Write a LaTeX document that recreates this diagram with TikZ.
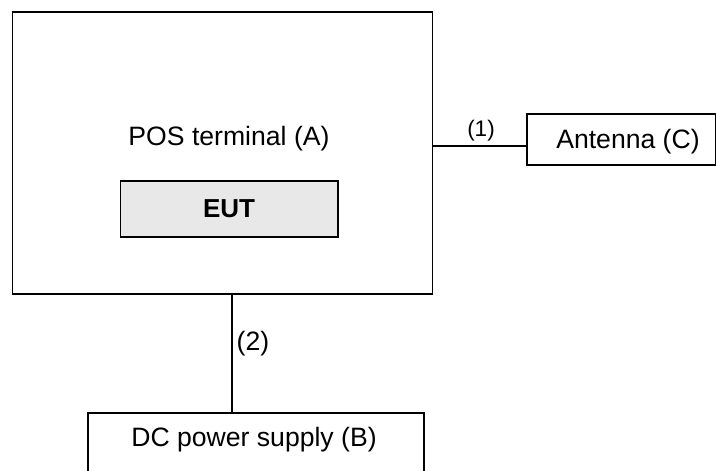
\documentclass[tikz,border=0pt]{standalone}
\usepackage{fontspec}
\setmainfont{Liberation Sans}
\begin{document}
\begin{tikzpicture}[x=1pt,y=-1pt,
  box/.style={draw=black, line width=1.8pt, rectangle, inner sep=0pt, anchor=north west},
  lbl/.style={inner sep=0pt, anchor=base, font=\fontsize{26.6}{30}\selectfont},
  small/.style={inner sep=0pt, anchor=base, font=\fontsize{22.5}{26}\selectfont},
  wire/.style={draw=black, line width=1.8pt}]
\useasboundingbox (0,0) rectangle (716,471);
\clip (0,0) rectangle (716,471);
% boxes
\node[box, minimum width=420pt, minimum height=282pt] (pos) at (11.5,11) {};
\node[box, fill={rgb,255:red,232;green,232;blue,232}, minimum width=217.5pt, minimum height=56pt] (eut) at (119.5,180) {};
\node[box, minimum width=189.5pt, minimum height=51.5pt] (ant) at (525.7,112.8) {};
\node[box, minimum width=336pt, minimum height=80pt] (dc) at (87.3,411.7) {};
% labels
\node[lbl] (posl) at (229,145) {POS terminal (A)};
\node[lbl, font=\fontsize{26}{30}\selectfont\bfseries] (eutl) at (229,217) {EUT};
\node[lbl] (antl) at (628,148.5) {Antenna (C)};
\node[lbl] (dcl) at (254,446.5) {DC power supply (B)};
% connectors
\coordinate (c1) at (0,146);
\coordinate (c2) at (231.7,0);
\draw[wire] (pos.east |- c1) -- (ant.west |- c1);
\draw[wire] (c2 |- pos.south) -- (c2 |- dc.north);
\node[small] (l1) at (481,136) {(1)};
\node[lbl, anchor=base west] (l2) at (236.5,350.5) {(2)};
\end{tikzpicture}
\end{document}
